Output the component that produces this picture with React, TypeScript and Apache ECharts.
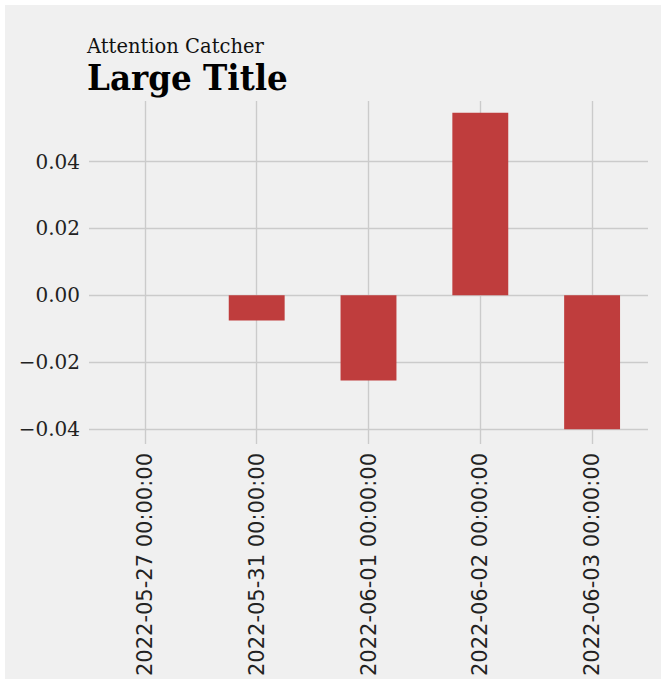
import React, { useEffect, useRef } from "react";
import * as echarts from "echarts";

const categories = [
  "2022-05-27 00:00:00",
  "2022-05-31 00:00:00",
  "2022-06-01 00:00:00",
  "2022-06-02 00:00:00",
  "2022-06-03 00:00:00",
];
const values = [0, -0.0076, -0.0255, 0.0546, -0.0401];
const yMin = -0.0445;
const yMax = 0.0581;
const titleText = "Large Title";
const subtitleText = "Attention Catcher";

export default function App() {
  const ref = useRef<HTMLDivElement>(null);
  useEffect(() => {
    document.body.style.margin = "0";
    const chart = echarts.init(ref.current!, null, { renderer: "svg" });
    chart.setOption({
      animation: false,
      backgroundColor: "#f0f0f0",
      grid: { left: 84, right: 13, top: 96, bottom: 234, containLabel: false },
      graphic: [
        {
          type: "text",
          x: 82,
          y: 41,
          style: {
            text: subtitleText,
            font: "19.5px 'DejaVu Serif'",
            fill: "#111",
            verticalAlign: "middle",
          },
        },
        {
          type: "text",
          x: 82,
          y: 72,
          scaleX: 0.905,
          style: {
            text: titleText,
            font: "bold 36px 'DejaVu Serif'",
            fill: "#000",
            verticalAlign: "middle",
          },
        },
      ],
      xAxis: {
        type: "category",
        data: categories,
        axisLine: { show: false },
        axisTick: { show: false },
        splitLine: {
          show: true,
          alignWithLabel: true,
          lineStyle: { color: "#cbcbcb", width: 1.4 },
        },
        axisLabel: {
          rotate: 90,
          margin: 9,
          color: "#222",
          fontFamily: "DejaVu Sans",
          fontSize: 21,
        },
      },
      yAxis: {
        type: "value",
        min: yMin,
        max: yMax,
        axisLine: { show: false },
        axisTick: { show: false },
        splitLine: {
          show: true,
          showMinLine: false,
          showMaxLine: false,
          lineStyle: { color: "#cbcbcb", width: 1.4 },
        },
        axisLabel: {
          showMinLabel: false,
          showMaxLabel: false,
          margin: 9,
          color: "#222",
          fontFamily: "DejaVu Serif",
          fontSize: 20,
          formatter: (v: number) =>
            (v < -1e-9 ? "\u2212" : "") + Math.abs(v).toFixed(2),
        },
      },
      series: [
        {
          type: "bar",
          data: values,
          barWidth: "50%",
          itemStyle: { color: "#bf3d3d" },
        },
      ],
    });
    return () => chart.dispose();
  }, []);
  return (
    <div style={{ position: "relative", width: 661, height: 679, background: "#fff", overflow: "hidden" }}>
      <div ref={ref} style={{ position: "absolute", left: 5, top: 5, width: 656, height: 674 }} />
    </div>
  );
}
